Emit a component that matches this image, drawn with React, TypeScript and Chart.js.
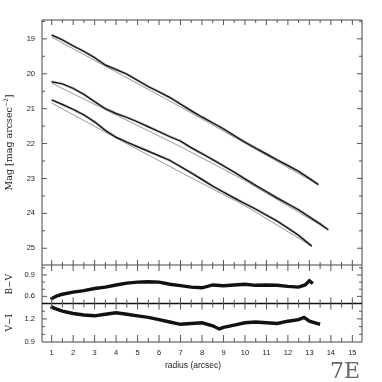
import React, { useEffect, useRef } from "react";
import { Chart, registerables } from "chart.js";

Chart.register(...registerables);

// ---- tick labels ----
const radiusTicks = [1, 2, 3, 4, 5, 6, 7, 8, 9, 10, 11, 12, 13, 14, 15];
const magTicks = [19, 20, 21, 22, 23, 24, 25];
const bvTicks = [0.6, 0.9];
const viTicks = [0.9, 1.2];

// ---- surface brightness profiles ----
const topRadius = [1, 1.5, 2, 2.5, 3, 3.5, 4, 4.5, 5, 5.5, 6, 6.5, 7, 7.5, 8, 8.5, 9, 9.5, 10, 10.5, 11, 11.5, 12, 12.5, 13, 13.42];
const topMag = [18.89, 19.03, 19.2, 19.36, 19.54, 19.75, 19.88, 20.01, 20.19, 20.37, 20.52, 20.68, 20.87, 21.06, 21.24, 21.41, 21.58, 21.77, 21.96, 22.13, 22.3, 22.47, 22.63, 22.8, 23.0, 23.18];

const midRadius = [1, 1.5, 2, 2.5, 3, 3.5, 4, 4.5, 5, 5.5, 6, 6.5, 7, 7.5, 8, 8.5, 9, 9.5, 10, 10.5, 11, 11.5, 12, 12.5, 13, 13.5, 13.88];
const midMag = [20.23, 20.29, 20.42, 20.59, 20.8, 21.0, 21.14, 21.25, 21.38, 21.52, 21.66, 21.8, 21.93, 22.12, 22.29, 22.46, 22.64, 22.82, 23.01, 23.2, 23.38, 23.56, 23.73, 23.9, 24.1, 24.3, 24.47];

const lowRadius = [1, 1.5, 2, 2.5, 3, 3.5, 4, 4.5, 5, 5.5, 6, 6.5, 7, 7.5, 8, 8.5, 9, 9.5, 10, 10.5, 11, 11.5, 12, 12.5, 13.11];
const lowMag = [20.75, 20.88, 21.02, 21.18, 21.38, 21.62, 21.82, 21.96, 22.09, 22.22, 22.35, 22.48, 22.66, 22.84, 23.03, 23.22, 23.39, 23.56, 23.72, 23.88, 24.05, 24.22, 24.42, 24.63, 24.94];

// ---- fitted models (thin lines) ----
const topFitRadius = [1, 4, 7, 10, 13.42];
const topFitMag = [18.95, 19.95, 20.95, 21.99, 23.18];
const midFitRadius = [1, 4, 7, 10, 13.88];
const midFitMag = [20.27, 21.18, 22.09, 23.06, 24.47];
const lowFitRadius = [1, 4, 7, 10, 13.11];
const lowFitMag = [20.84, 21.84, 22.82, 23.78, 24.94];

// ---- colour profiles ----
const bvRadius = [0.95, 1.2, 1.5, 2, 2.5, 3, 3.5, 4, 4.5, 5, 5.5, 6, 6.5, 7, 7.5, 8, 8.5, 9, 9.5, 10, 10.5, 11, 11.5, 12, 12.5, 12.8, 13.0, 13.16];
const bvValue = [0.56, 0.6, 0.63, 0.66, 0.68, 0.71, 0.73, 0.76, 0.785, 0.8, 0.805, 0.8, 0.77, 0.75, 0.73, 0.72, 0.76, 0.75, 0.76, 0.77, 0.755, 0.76, 0.755, 0.74, 0.73, 0.76, 0.82, 0.78];

const viRadius = [0.95, 1.2, 1.5, 2, 2.5, 3, 3.5, 4, 4.5, 5, 5.5, 6, 6.5, 7, 7.5, 8, 8.5, 8.8, 9, 9.5, 10, 10.5, 11, 11.5, 12, 12.5, 12.75, 13, 13.5];
const viValue = [1.36, 1.33, 1.3, 1.27, 1.25, 1.24, 1.26, 1.28, 1.26, 1.24, 1.22, 1.19, 1.16, 1.13, 1.14, 1.15, 1.11, 1.07, 1.09, 1.12, 1.15, 1.16, 1.15, 1.14, 1.17, 1.19, 1.22, 1.17, 1.13];

const pts = (xs: number[], ys: number[]) => xs.map((x, i) => ({ x, y: ys[i] }));

const framePlugin = {
  id: "frame",
  afterDraw(chart: any) {
    const { ctx, chartArea, scales } = chart;
    const { left, right, top, bottom } = chartArea;
    const xs = scales.x, ym = scales.y, yb = scales.yBV, yv = scales.yVI;
    const sep1 = ym.bottom;
    const sep2 = yb.bottom;
    ctx.save();
    ctx.strokeStyle = "#444";
    ctx.lineWidth = 1;
    ctx.beginPath();
    ctx.rect(left, top, right - left, bottom - top);
    ctx.moveTo(left, sep1);
    ctx.lineTo(right, sep1);
    ctx.stroke();
    ctx.lineWidth = 1.6;
    ctx.strokeStyle = "#111";
    ctx.beginPath();
    ctx.moveTo(left, sep2);
    ctx.lineTo(right, sep2);
    ctx.stroke();

    ctx.lineWidth = 1;
    ctx.strokeStyle = "#555";
    ctx.beginPath();
    // x ticks
    for (let k = 2; k <= 30; k++) {
      const r = k / 2;
      const major = k % 2 === 0;
      const px = xs.getPixelForValue(r);
      if (px < left || px > right) continue;
      const seg = (y0: number, y1: number) => { ctx.moveTo(px, y0); ctx.lineTo(px, y1); };
      seg(top, top + (major ? 5 : 3));
      seg(sep1 - (major ? 5 : 3), sep1 + (major ? 6 : 4));
      seg(sep2 - (major ? 6 : 4), sep2 + (major ? 6 : 4));
      seg(bottom - (major ? 7 : 4), bottom);
    }
    // main y ticks
    for (let k = 37; k <= 51; k++) {
      const m = k / 2;
      const major = k % 2 === 0;
      const py = ym.getPixelForValue(m);
      if (py < ym.top || py > ym.bottom) continue;
      const len = major ? 5 : 3;
      ctx.moveTo(left, py); ctx.lineTo(left + len, py);
      ctx.moveTo(right, py); ctx.lineTo(right - len, py);
    }
    // colour panel ticks
    const colTicks = (sc: any, from: number, to: number, majors: number[]) => {
      for (let k = from; k <= to; k++) {
        const v = k / 10;
        const py = sc.getPixelForValue(v);
        if (py < sc.top + 1 || py > sc.bottom - 1) continue;
        const major = majors.some((m) => Math.abs(m - v) < 1e-6);
        const len = major ? 5 : 3;
        ctx.moveTo(left, py); ctx.lineTo(left + len, py);
        ctx.moveTo(right, py); ctx.lineTo(right - len, py);
      }
    };
    colTicks(yb, 5, 10, bvTicks);
    colTicks(yv, 9, 14, viTicks);
    ctx.stroke();

    // titles
    ctx.fillStyle = "#222";
    ctx.textBaseline = "middle";
    const serif = "DejaVu Serif";
    const drawRot = (cx: number, cy: number, draw: () => void) => {
      ctx.save();
      ctx.translate(cx, cy);
      ctx.rotate(-Math.PI / 2);
      draw();
      ctx.restore();
    };
    drawRot(10, (top + sep1) / 2, () => {
      const main = "Mag [mag arcsec";
      const sup = "\u22122";
      const end = "]";
      ctx.font = `9.5px "${serif}"`;
      const w1 = ctx.measureText(main).width;
      const w3 = ctx.measureText(end).width;
      ctx.font = `6px "${serif}"`;
      const w2 = ctx.measureText(sup).width;
      let x0 = -(w1 + w2 + w3) / 2;
      ctx.textAlign = "left";
      ctx.font = `9.5px "${serif}"`;
      ctx.fillText(main, x0, 0);
      ctx.font = `6px "${serif}"`;
      ctx.fillText(sup, x0 + w1, -3.5);
      ctx.font = `9.5px "${serif}"`;
      ctx.fillText(end, x0 + w1 + w2, 0);
    });
    ctx.textAlign = "center";
    drawRot(10, (sep1 + sep2) / 2, () => {
      ctx.font = `9px "${serif}"`;
      ctx.fillText("B\u2212V", 0, 0);
    });
    drawRot(10, (sep2 + bottom) / 2, () => {
      ctx.font = `9px "${serif}"`;
      ctx.fillText("V\u2212I", 0, 0);
    });
    ctx.font = `8.5px "Liberation Sans"`;
    ctx.fillText("radius (arcsec)", 193, 366);
    ctx.fillStyle = "#666";
    ctx.font = `22px "DejaVu Serif"`;
    ctx.textAlign = "center";
    ctx.fillText("7E", 345, 372);
    ctx.restore();
  },
};

export default function App() {
  const ref = useRef<HTMLCanvasElement>(null);
  useEffect(() => {
    document.body.style.margin = "0";
    const canvas = ref.current!;
    const tickFont = { family: "Liberation Sans", size: 7.5 };
    const core = (data: any, axis: string) => ({
      data, yAxisID: axis, borderColor: "#1a1a1a", borderWidth: 1.5, pointRadius: 0, order: 0,
    });
    const halo = (data: any, axis: string) => ({
      data, yAxisID: axis, borderColor: "rgba(0,0,0,0.16)", borderWidth: 3, pointRadius: 0, order: 2,
    });
    const fit = (data: any) => ({
      data, yAxisID: "y", borderColor: "#808080", borderWidth: 0.8, pointRadius: 0, order: 1,
    });
    const chart = new Chart(canvas, {
      type: "line",
      data: {
        datasets: [
          core(pts(topRadius, topMag), "y"),
          core(pts(midRadius, midMag), "y"),
          core(pts(lowRadius, lowMag), "y"),
          fit(pts(topFitRadius, topFitMag)),
          fit(pts(midFitRadius, midFitMag)),
          fit(pts(lowFitRadius, lowFitMag)),
          halo(pts(topRadius, topMag), "y"),
          halo(pts(midRadius, midMag), "y"),
          halo(pts(lowRadius, lowMag), "y"),
          { data: pts(bvRadius, bvValue), yAxisID: "yBV", borderColor: "#111", borderWidth: 3.4, pointRadius: 0, order: 0 },
          { data: pts(viRadius, viValue), yAxisID: "yVI", borderColor: "#111", borderWidth: 3.4, pointRadius: 0, order: 0 },
        ] as any,
      },
      options: {
        animation: false,
        responsive: false,
        devicePixelRatio: 1,
        layout: { padding: { top: 20, right: 20, bottom: 0, left: 0 } },
        elements: { line: { tension: 0 } },
        plugins: { legend: { display: false }, tooltip: { enabled: false } },
        scales: {
          x: {
            type: "linear", position: "bottom", min: 0.55, max: 15.45,
            grid: { display: false, drawTicks: false }, border: { display: false },
            afterBuildTicks: (s: any) => { s.ticks = radiusTicks.map((v) => ({ value: v })); },
            afterFit: (s: any) => { s.height = 40; },
            ticks: { font: tickFont, color: "#222", padding: 6, maxRotation: 0, autoSkip: false, callback: (v: any) => String(v) },
          },
          y: {
            type: "linear", position: "left", stack: "s", stackWeight: 245, weight: 3,
            reverse: true, min: 18.46, max: 25.48,
            grid: { display: false, drawTicks: false }, border: { display: false },
            afterBuildTicks: (s: any) => { s.ticks = magTicks.map((v) => ({ value: v })); },
            afterFit: (s: any) => { s.width = 42; },
            ticks: { font: tickFont, color: "#222", padding: 7, callback: (v: any) => String(v) },
          },
          yBV: {
            type: "linear", position: "left", stack: "s", stackWeight: 38.5, weight: 2,
            min: 0.5, max: 1.04,
            grid: { display: false, drawTicks: false }, border: { display: false },
            afterBuildTicks: (s: any) => { s.ticks = bvTicks.map((v) => ({ value: v })); },
            afterFit: (s: any) => { s.width = 42; },
            ticks: { font: tickFont, color: "#222", padding: 7, callback: (v: any) => Number(v).toFixed(1) },
          },
          yVI: {
            type: "linear", position: "left", stack: "s", stackWeight: 38.5, weight: 1,
            min: 0.9, max: 1.4,
            grid: { display: false, drawTicks: false }, border: { display: false },
            afterBuildTicks: (s: any) => { s.ticks = viTicks.map((v) => ({ value: v })); },
            afterFit: (s: any) => { s.width = 42; },
            ticks: { font: tickFont, color: "#222", padding: 7, callback: (v: any) => Number(v).toFixed(1) },
          },
        },
      } as any,
      plugins: [framePlugin],
    });
    return () => chart.destroy();
  }, []);
  return <canvas ref={ref} width={382} height={382} style={{ display: "block", width: 382, height: 382 }} />;
}
